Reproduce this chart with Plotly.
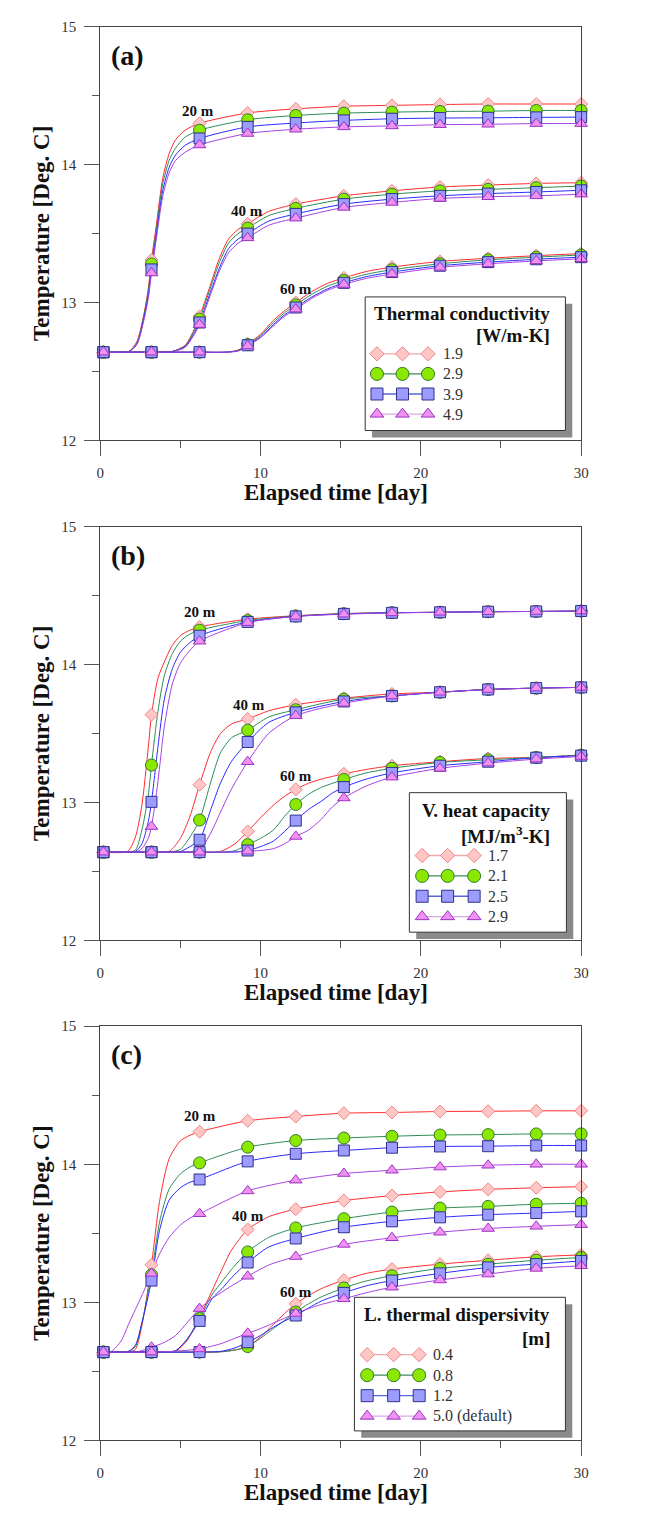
import plotly.graph_objects as go

W, H = 649, 1522

# ---------------- data ----------------
MARKER_DAYS = [0.2, 3.2, 6.2, 9.2, 12.2, 15.2, 18.2, 21.2, 24.2, 27.2, 30.0]
DEPTH_LABELS = ["20 m", "40 m", "60 m"]
PANEL_LABELS = ["(a)", "(b)", "(c)"]

# Panel (a): thermal conductivity [W/m-K]
A_NAMES = ["1.9", "2.9", "3.9", "4.9"]
A20_T = [0, 0.2, 1.8, 2.3, 2.7, 3.0, 3.2, 3.5, 3.9, 4.3, 4.7, 5.3, 6.2, 9.2, 12.2, 15.2, 18.2, 21.2, 24.2, 27.2, 30]
A20 = [
    [12.64, 12.64, 12.645, 12.72, 12.90, 13.10, 13.31, 13.56, 13.90, 14.08, 14.18, 14.25, 14.30, 14.375, 14.405, 14.424, 14.43, 14.436, 14.44, 14.44, 14.44],
    [12.64, 12.64, 12.645, 12.71, 12.89, 13.08, 13.28, 13.53, 13.86, 14.03, 14.12, 14.20, 14.25, 14.326, 14.357, 14.374, 14.381, 14.386, 14.388, 14.393, 14.393],
    [12.64, 12.64, 12.645, 12.70, 12.87, 13.05, 13.24, 13.49, 13.81, 13.98, 14.07, 14.14, 14.19, 14.274, 14.302, 14.321, 14.333, 14.338, 14.34, 14.343, 14.345],
    [12.64, 12.64, 12.645, 12.70, 12.86, 13.03, 13.214, 13.46, 13.77, 13.94, 14.03, 14.09, 14.143, 14.226, 14.257, 14.274, 14.281, 14.29, 14.293, 14.298, 14.298],
]
A40_T = [0, 0.2, 3.2, 4.5, 5.3, 5.8, 6.2, 6.8, 7.4, 8.0, 8.6, 9.2, 10.5, 12.2, 15.2, 18.2, 21.2, 24.2, 27.2, 30]
A40 = [
    [12.64, 12.64, 12.64, 12.645, 12.69, 12.79, 12.90, 13.10, 13.31, 13.46, 13.53, 13.571, 13.66, 13.714, 13.774, 13.81, 13.838, 13.852, 13.864, 13.869],
    [12.64, 12.64, 12.64, 12.645, 12.685, 12.78, 12.88, 13.08, 13.28, 13.43, 13.50, 13.54, 13.63, 13.683, 13.75, 13.786, 13.81, 13.821, 13.833, 13.845],
    [12.64, 12.64, 12.64, 12.645, 12.68, 12.765, 12.855, 13.05, 13.24, 13.39, 13.46, 13.50, 13.59, 13.643, 13.714, 13.75, 13.774, 13.79, 13.802, 13.814],
    [12.64, 12.64, 12.64, 12.645, 12.675, 12.755, 12.84, 13.03, 13.22, 13.36, 13.43, 13.469, 13.56, 13.612, 13.69, 13.726, 13.755, 13.767, 13.774, 13.786],
]
A60_T = [0, 0.2, 3.2, 6.2, 7.8, 8.6, 9.2, 10.0, 10.8, 11.5, 12.2, 13.2, 14.2, 15.2, 16.6, 18.2, 21.2, 24.2, 27.2, 30]
A60 = [
    [12.64, 12.64, 12.64, 12.64, 12.64, 12.655, 12.70, 12.77, 12.87, 12.94, 13.00, 13.08, 13.14, 13.179, 13.225, 13.257, 13.298, 13.321, 13.34, 13.355],
    [12.64, 12.64, 12.64, 12.64, 12.64, 12.653, 12.695, 12.76, 12.855, 12.925, 12.983, 13.06, 13.12, 13.16, 13.205, 13.238, 13.281, 13.31, 13.329, 13.345],
    [12.64, 12.64, 12.64, 12.64, 12.64, 12.65, 12.69, 12.75, 12.84, 12.91, 12.964, 13.04, 13.10, 13.143, 13.188, 13.221, 13.267, 13.293, 13.314, 13.329],
    [12.64, 12.64, 12.64, 12.64, 12.64, 12.648, 12.685, 12.745, 12.83, 12.90, 12.952, 13.03, 13.09, 13.131, 13.175, 13.207, 13.255, 13.281, 13.302, 13.317],
]

# Panel (b): volumetric heat capacity [MJ/m3-K]
B_NAMES = ["1.7", "2.1", "2.5", "2.9"]
B20_T = [0, 0.2, 1.7, 2.2, 2.6, 3.0, 3.2, 3.6, 4.0, 4.5, 5.0, 5.5, 6.2, 9.2, 12.2, 15.2, 18.2, 21.2, 24.2, 27.2, 30]
B20 = [
    [12.64, 12.64, 12.645, 12.75, 12.98, 13.40, 13.637, 13.90, 14.02, 14.14, 14.21, 14.245, 14.274, 14.33, 14.355, 14.37, 14.377, 14.38, 14.384, 14.386, 14.389],
    [12.64, 12.64, 12.64, 12.655, 12.80, 13.05, 13.272, 13.66, 13.92, 14.08, 14.17, 14.215, 14.25, 14.32, 14.353, 14.37, 14.377, 14.38, 14.384, 14.386, 14.389],
    [12.64, 12.64, 12.64, 12.645, 12.70, 12.86, 13.005, 13.40, 13.75, 13.97, 14.09, 14.15, 14.21, 14.31, 14.35, 14.368, 14.376, 14.38, 14.384, 14.386, 14.389],
    [12.64, 12.64, 12.64, 12.64, 12.665, 12.74, 12.826, 13.15, 13.55, 13.86, 14.01, 14.09, 14.17, 14.305, 14.35, 14.366, 14.375, 14.38, 14.384, 14.386, 14.389],
]
B40_T = [0, 0.2, 3.2, 4.3, 5.0, 5.6, 6.2, 6.9, 7.5, 8.2, 9.2, 10.5, 12.2, 15.2, 18.2, 21.2, 24.2, 27.2, 30]
B40 = [
    [12.64, 12.64, 12.64, 12.645, 12.74, 12.90, 13.129, 13.37, 13.50, 13.57, 13.606, 13.665, 13.709, 13.757, 13.788, 13.80, 13.82, 13.83, 13.835],
    [12.64, 12.64, 12.64, 12.64, 12.66, 12.75, 12.873, 13.15, 13.36, 13.47, 13.525, 13.62, 13.673, 13.75, 13.773, 13.80, 13.82, 13.83, 13.835],
    [12.64, 12.64, 12.64, 12.64, 12.645, 12.68, 12.73, 12.95, 13.14, 13.30, 13.439, 13.58, 13.654, 13.733, 13.773, 13.80, 13.82, 13.83, 13.835],
    [12.64, 12.64, 12.64, 12.64, 12.64, 12.642, 12.655, 12.78, 12.93, 13.10, 13.296, 13.50, 13.63, 13.72, 13.773, 13.80, 13.82, 13.83, 13.835],
]
B60_T = [0, 0.2, 3.2, 6.2, 7.5, 8.4, 9.2, 10.0, 10.8, 11.5, 12.2, 13.0, 13.8, 14.5, 15.2, 16.6, 18.2, 21.2, 24.2, 27.2, 30]
B60 = [
    [12.64, 12.64, 12.64, 12.64, 12.645, 12.70, 12.79, 12.89, 12.98, 13.045, 13.095, 13.14, 13.17, 13.19, 13.208, 13.24, 13.267, 13.296, 13.32, 13.327, 13.344],
    [12.64, 12.64, 12.64, 12.64, 12.64, 12.65, 12.695, 12.74, 12.80, 12.90, 12.986, 13.06, 13.11, 13.14, 13.167, 13.215, 13.248, 13.291, 13.31, 13.327, 13.344],
    [12.64, 12.64, 12.64, 12.64, 12.64, 12.642, 12.652, 12.68, 12.72, 12.79, 12.869, 12.95, 13.01, 13.07, 13.112, 13.17, 13.215, 13.267, 13.296, 13.325, 13.34],
    [12.64, 12.64, 12.64, 12.64, 12.64, 12.64, 12.647, 12.652, 12.665, 12.70, 12.754, 12.80, 12.88, 12.97, 13.033, 13.12, 13.184, 13.248, 13.286, 13.315, 13.334],
]

# Panel (c): longitudinal thermal dispersivity [m]
C_NAMES = ["0.4", "0.8", "1.2", "5.0 (default)"]
C20_T = [0, 0.2, 0.7, 1.3, 1.8, 2.2, 2.6, 3.2, 3.7, 4.3, 5.0, 5.6, 6.2, 9.2, 12.2, 15.2, 18.2, 21.2, 24.2, 27.2, 30]
C20 = [
    [12.64, 12.64, 12.64, 12.64, 12.64, 12.66, 12.83, 13.272, 13.73, 14.04, 14.17, 14.21, 14.236, 14.315, 14.346, 14.37, 14.375, 14.382, 14.384, 14.387, 14.387],
    [12.64, 12.64, 12.64, 12.64, 12.645, 12.68, 12.85, 13.20, 13.58, 13.82, 13.93, 13.98, 14.01, 14.124, 14.172, 14.19, 14.203, 14.212, 14.215, 14.22, 14.22],
    [12.64, 12.64, 12.64, 12.64, 12.648, 12.69, 12.85, 13.158, 13.52, 13.74, 13.83, 13.87, 13.89, 14.021, 14.076, 14.10, 14.12, 14.129, 14.131, 14.136, 14.136],
    [12.64, 12.64, 12.645, 12.72, 12.85, 12.95, 13.05, 13.21, 13.35, 13.47, 13.56, 13.61, 13.642, 13.807, 13.885, 13.933, 13.957, 13.98, 13.993, 14.0, 14.0],
]
C40_T = [0, 0.2, 2.4, 3.2, 4.0, 4.7, 5.4, 6.2, 7.0, 7.6, 8.2, 9.2, 10.5, 12.2, 15.2, 18.2, 21.2, 24.2, 27.2, 30]
C40 = [
    [12.64, 12.64, 12.64, 12.64, 12.64, 12.645, 12.72, 12.895, 13.09, 13.24, 13.38, 13.527, 13.62, 13.675, 13.737, 13.773, 13.80, 13.818, 13.83, 13.838],
    [12.64, 12.64, 12.64, 12.64, 12.64, 12.65, 12.73, 12.883, 13.06, 13.15, 13.24, 13.365, 13.47, 13.539, 13.606, 13.654, 13.683, 13.695, 13.711, 13.718],
    [12.64, 12.64, 12.64, 12.64, 12.64, 12.65, 12.73, 12.866, 13.03, 13.10, 13.18, 13.289, 13.40, 13.463, 13.544, 13.587, 13.616, 13.635, 13.647, 13.659],
    [12.64, 12.64, 12.645, 12.675, 12.71, 12.76, 12.85, 12.955, 13.03, 13.075, 13.12, 13.189, 13.27, 13.332, 13.42, 13.468, 13.508, 13.535, 13.551, 13.563],
]
C60_T = [0, 0.2, 3.2, 4.5, 6.2, 7.5, 8.4, 9.2, 10.0, 10.8, 11.5, 12.2, 13.0, 13.8, 15.2, 16.6, 18.2, 21.2, 24.2, 27.2, 30]
C60 = [
    [12.64, 12.64, 12.64, 12.64, 12.64, 12.642, 12.655, 12.68, 12.75, 12.84, 12.92, 12.99, 13.05, 13.10, 13.162, 13.21, 13.241, 13.277, 13.305, 13.33, 13.344],
    [12.64, 12.64, 12.64, 12.64, 12.64, 12.642, 12.655, 12.68, 12.74, 12.81, 12.87, 12.93, 12.99, 13.04, 13.105, 13.155, 13.193, 13.246, 13.277, 13.305, 13.325],
    [12.64, 12.64, 12.64, 12.64, 12.64, 12.645, 12.67, 12.711, 12.76, 12.82, 12.865, 12.905, 12.96, 13.01, 13.069, 13.12, 13.158, 13.21, 13.253, 13.277, 13.30],
    [12.64, 12.64, 12.64, 12.645, 12.663, 12.70, 12.74, 12.776, 12.81, 12.85, 12.885, 12.92, 12.955, 12.985, 13.026, 13.07, 13.11, 13.162, 13.205, 13.246, 13.265],
]

# depth label anchor points (day, temperature) per panel
A_DEPTH_POS = [(6.1, 14.39), (9.15, 13.665), (12.2, 13.10)]
B_DEPTH_POS = [(6.25, 14.385), (9.3, 13.708), (12.2, 13.194)]
C_DEPTH_POS = [(6.2, 14.348), (9.25, 13.628), (12.2, 13.076)]

A_TITLE = ["<b>Thermal conductivity</b>", "<b>[W/m-K]</b>"]
B_TITLE = ["<b>V. heat capacity</b>", "<b>[MJ/m<sup>3</sup>-K]</b>"]
C_TITLE = ["<b>L. thermal dispersivity</b>", "<b>[m]</b>"]

# ---------------- styling / layout ----------------
FONT = "Liberation Serif, Times New Roman, serif"
STYLES = [
    dict(symbol="diamond", size=10, lsize=11, fill="#ffc6c6", edge="#ee8585", line="#ff2b2b", leg="#f2a6a6"),
    dict(symbol="circle", size=12, lsize=13, fill="#8ce800", edge="#2f7a2a", line="#2e8b57", leg="#3c8a5a"),
    dict(symbol="square", size=11, lsize=12, fill="#9c9cff", edge="#30308c", line="#2a2aff", leg="#5866dd"),
    dict(symbol="triangle-up", size=11, lsize=12, fill="#f090f0", edge="#9a34c4", line="#a640e0", leg="#dba6e8"),
]
X_PX = (98, 588)
PANEL_PX = [(19.0, 437.0), (524.3, 942.3), (1029.0, 1447.7)]
LEGEND_PX = [
    dict(box=(368, 292, 572, 427), ty=(309, 331), rows=(349.5, 20.3), mx=(380, 406, 432), tx=445),
    dict(box=(413, 793, 573, 934), ty=(811, 836), rows=(856.5, 20.6), mx=(426, 452, 479), tx=491),
    dict(box=(357, 1303, 572, 1438), ty=(1320, 1345), rows=(1361, 20.7), mx=(370, 397, 423), tx=435),
]
SHADOW = 7

panels = [
    dict(names=A_NAMES, grids=[(A20_T, A20), (A40_T, A40), (A60_T, A60)], dpos=A_DEPTH_POS, title=A_TITLE),
    dict(names=B_NAMES, grids=[(B20_T, B20), (B40_T, B40), (B60_T, B60)], dpos=B_DEPTH_POS, title=B_TITLE),
    dict(names=C_NAMES, grids=[(C20_T, C20), (C40_T, C40), (C60_T, C60)], dpos=C_DEPTH_POS, title=C_TITLE),
]

fig = go.Figure()
annotations = []
layout_axes = {}

for pi, p in enumerate(panels):
    n = pi + 1
    xa = "x" if n == 1 else f"x{n}"
    ya = "y" if n == 1 else f"y{n}"
    top, bot = PANEL_PX[pi]
    layout_axes["xaxis" if n == 1 else f"xaxis{n}"] = dict(
        domain=[X_PX[0] / W, X_PX[1] / W], anchor=ya, range=[0, 30], dtick=10,
        ticks="outside", ticklen=15, tickwidth=1, tickcolor="#555", ticklabelstandoff=4,
        showline=True, linecolor="#444", linewidth=1, mirror=True, showgrid=False, zeroline=False,
        tickfont=dict(family=FONT, size=15, color="#333"),
        minor=dict(dtick=5, ticks="outside", ticklen=7, tickcolor="#555", showgrid=False),
        fixedrange=True,
    )
    layout_axes["yaxis" if n == 1 else f"yaxis{n}"] = dict(
        domain=[1 - bot / H, 1 - top / H], anchor=xa, range=[12, 15], dtick=1,
        ticks="outside", ticklen=15, tickwidth=1, tickcolor="#555", ticklabelstandoff=5,
        showline=True, linecolor="#444", linewidth=1, mirror=True, showgrid=False, zeroline=False,
        tickfont=dict(family=FONT, size=15, color="#333"),
        minor=dict(dtick=0.5, ticks="outside", ticklen=7, tickcolor="#555", showgrid=False),
        fixedrange=True,
    )
    for t, series in p["grids"]:
        for si, vals in enumerate(series):
            st = STYLES[si]
            fig.add_trace(go.Scatter(
                x=t, y=vals, mode="lines", xaxis=xa, yaxis=ya, showlegend=False,
                line=dict(color=st["line"], width=1, shape="spline", smoothing=0.7),
                hoverinfo="skip"))
    for t, series in p["grids"]:
        for si, vals in enumerate(series):
            st = STYLES[si]
            my = [vals[t.index(d)] for d in MARKER_DAYS]
            fig.add_trace(go.Scatter(
                x=MARKER_DAYS, y=my, mode="markers", xaxis=xa, yaxis=ya, showlegend=False,
                cliponaxis=False, name=p["names"][si],
                marker=dict(symbol=st["symbol"], size=st["size"], color=st["fill"],
                            line=dict(color=st["edge"], width=1))))
    for (dx, dy), lab in zip(p["dpos"], DEPTH_LABELS):
        annotations.append(dict(x=dx, y=dy, xref=xa, yref=ya, text=f"<b>{lab}</b>", showarrow=False,
                                xanchor="center", yanchor="middle",
                                font=dict(family=FONT, size=15, color="#111")))
    annotations.append(dict(x=(X_PX[0] + 9) / W, y=1 - (top + 29) / H, xref="paper", yref="paper",
                            xanchor="left", yanchor="middle", text=f"<b>{PANEL_LABELS[pi]}</b>",
                            showarrow=False, font=dict(family=FONT, size=28, color="#111")))
    annotations.append(dict(x=338 / W, y=1 - (bot + 53) / H, xref="paper", yref="paper",
                            xanchor="center", yanchor="middle",
                            text="<b>Elapsed time [day]</b>", showarrow=False,
                            font=dict(family=FONT, size=23, color="#111")))
    annotations.append(dict(x=38 / W, y=1 - ((top + bot) / 2) / H, xref="paper", yref="paper",
                            xanchor="center", yanchor="middle",
                            text="<b>Temperature [Deg. C]</b>", showarrow=False, textangle=-90,
                            font=dict(family=FONT, size=23, color="#111")))

    # ---- custom legend drawn on a pixel overlay axis ----
    lg = LEGEND_PX[pi]
    l, tp, r, b = lg["box"]
    fig.add_trace(go.Scatter(
        x=[l + SHADOW, r + SHADOW, r + SHADOW, l + SHADOW, l + SHADOW],
        y=[tp + SHADOW, tp + SHADOW, b + SHADOW, b + SHADOW, tp + SHADOW],
        xaxis="x4", yaxis="y4", mode="lines", fill="toself", fillcolor="#8a8a8a",
        line=dict(width=0, color="#8a8a8a"), showlegend=False, hoverinfo="skip"))
    fig.add_trace(go.Scatter(
        x=[l, r, r, l, l], y=[tp, tp, b, b, tp],
        xaxis="x4", yaxis="y4", mode="lines", fill="toself", fillcolor="white",
        line=dict(width=1, color="#333"), showlegend=False, hoverinfo="skip"))
    ry0, rdy = lg["rows"]
    for si, name in enumerate(p["names"]):
        st = STYLES[si]
        yy = ry0 + si * rdy
        fig.add_trace(go.Scatter(
            x=list(lg["mx"]), y=[yy] * 3, xaxis="x4", yaxis="y4", mode="lines+markers",
            line=dict(color=st["leg"], width=1.3),
            marker=dict(symbol=st["symbol"], size=st["lsize"], color=st["fill"],
                        line=dict(color=st["edge"], width=1)),
            showlegend=False, hoverinfo="skip", cliponaxis=False))
        annotations.append(dict(x=lg["tx"], y=yy, xref="x4", yref="y4", xanchor="left", yanchor="middle",
                                text=name, showarrow=False,
                                font=dict(family=FONT, size=16, color="#333")))
    for k, txt in enumerate(p["title"]):
        annotations.append(dict(x=558, y=lg["ty"][k], xref="x4", yref="y4", xanchor="right",
                                yanchor="middle", text=txt, showarrow=False,
                                font=dict(family=FONT, size=19, color="#111")))

layout_axes["xaxis4"] = dict(domain=[0, 1], range=[0, W], visible=False, anchor="y4", fixedrange=True)
layout_axes["yaxis4"] = dict(domain=[0, 1], range=[H, 0], visible=False, anchor="x4", fixedrange=True)

fig.update_layout(
    width=W, height=H, margin=dict(l=0, r=0, t=0, b=0),
    paper_bgcolor="white", plot_bgcolor="rgba(0,0,0,0)",
    showlegend=False, annotations=annotations, **layout_axes,
)

fig.write_html("out.html", config={"displayModeBar": False},
               post_script="document.body.style.margin='0';")
